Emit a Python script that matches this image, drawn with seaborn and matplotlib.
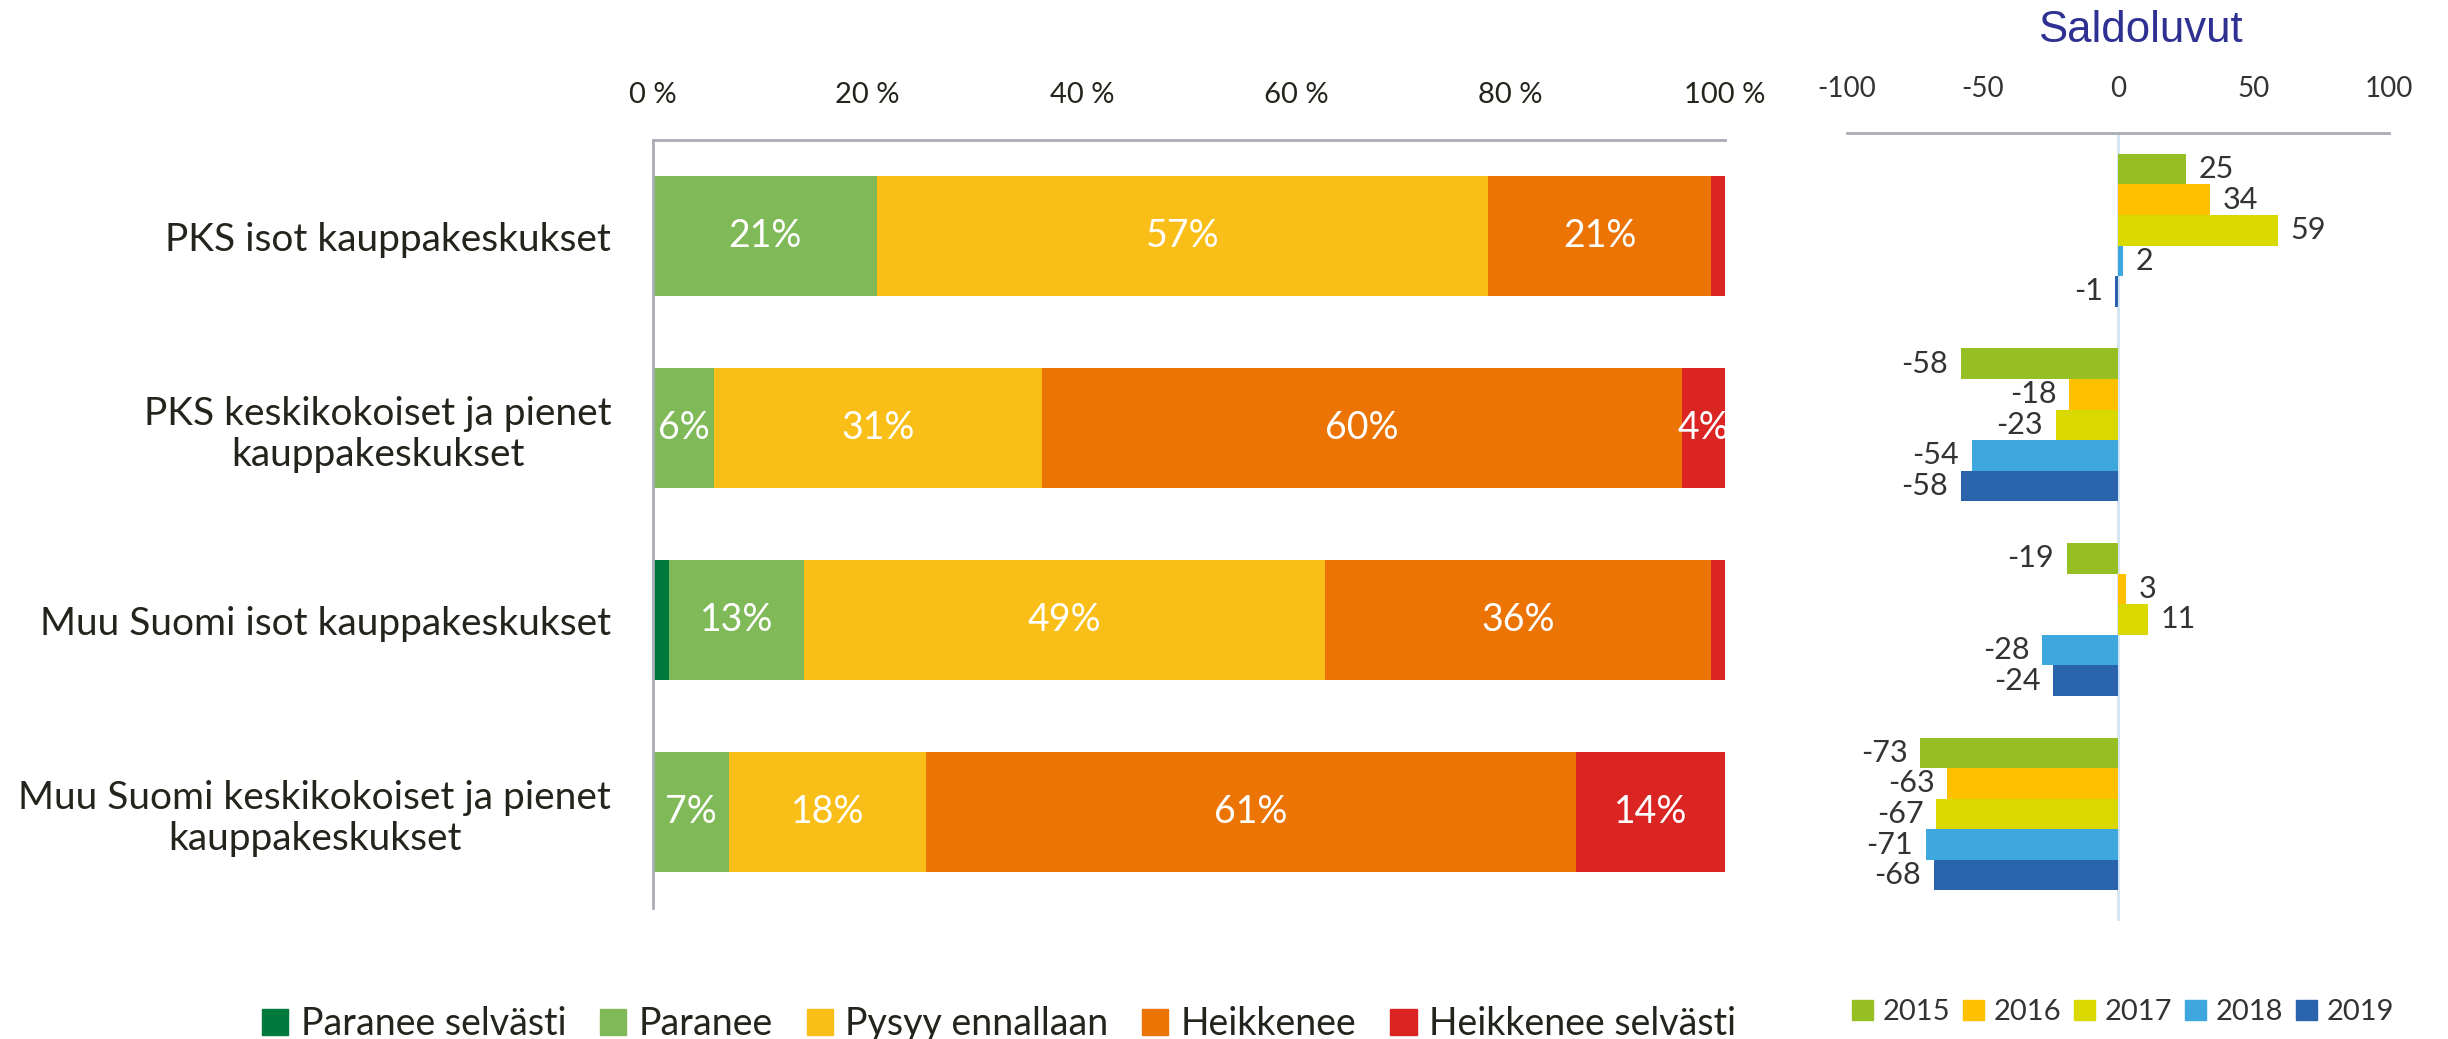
import numpy as np
import pandas as pd
import seaborn as sns
from matplotlib import pyplot as plt
from matplotlib.patches import Patch

sns.set_theme(style="white")
plt.rcParams["font.family"] = ["Lato", "DejaVu Sans"]
plt.rcParams["axes.unicode_minus"] = False

# left chart: share of answers per shopping centre group (%)
categories = [
    "PKS isot kauppakeskukset",
    "PKS keskikokoiset ja pienet\nkauppakeskukset",
    "Muu Suomi isot kauppakeskukset",
    "Muu Suomi keskikokoiset ja pienet\nkauppakeskukset",
]
answers = ["Paranee selvästi", "Paranee", "Pysyy ennallaan", "Heikkenee", "Heikkenee selvästi"]
paranee_selvasti = [0.0, 0.0, 1.5, 0.0]
paranee = [20.9, 5.7, 12.6, 7.1]
pysyy = [57.0, 30.6, 48.6, 18.4]
heikkenee = [20.8, 59.7, 36.0, 60.6]
heikkenee_selvasti = [1.3, 4.0, 1.3, 13.9]
answer_colors = ["#00793D", "#80BA58", "#F9BE17", "#EB7405", "#DA2522"]

# right chart: balance figures by year
years = ["2015", "2016", "2017", "2018", "2019"]
saldo_2015 = [25, -58, -19, -73]
saldo_2016 = [34, -18, 3, -63]
saldo_2017 = [59, -23, 11, -67]
saldo_2018 = [2, -54, -28, -71]
saldo_2019 = [-1, -58, -24, -68]
year_colors = ["#95BF22", "#FFC000", "#D9D900", "#3DA7DE", "#2964AC"]

text_color = "#24241c"
W, H = 2448, 1039
fig = plt.figure(figsize=(W / 100, H / 100), dpi=100)

# ---- stacked bars ----
ax = fig.add_axes([653 / W, 1 - 908 / H, (1725 - 653) / W, (908 - 140) / H])
shares = np.array([paranee_selvasti, paranee, pysyy, heikkenee, heikkenee_selvasti])
cum = shares.cumsum(axis=0)
for k in range(len(answers) - 1, -1, -1):
    sns.barplot(x=cum[k], y=categories, color=answer_colors[k], saturation=1,
                width=0.627, orient="h", errorbar=None, linewidth=0, ax=ax)
for k in range(len(answers)):
    for i in range(len(categories)):
        if shares[k, i] >= 3:
            ax.text(cum[k, i] - shares[k, i] / 2, i, f"{shares[k, i]:.0f}%",
                    ha="center", va="center", color="white", fontsize=27)

ax.set_xlim(0, 100)
ax.set_ylim(3.5, -0.5)
ax.xaxis.tick_top()
ax.set_xticks([0, 20, 40, 60, 80, 100])
ax.set_xticklabels([f"{v} %" for v in [0, 20, 40, 60, 80, 100]])
ax.tick_params(axis="x", length=0, pad=23, labelsize=21, labelcolor=text_color)
ax.tick_params(axis="y", length=0, pad=30, labelsize=28, labelcolor=text_color)
ax.set_yticks(range(len(categories)))
ax.set_yticklabels(categories, ha="right", multialignment="center")
ax.set_xlabel("")
ax.set_ylabel("")
for side in ["right", "bottom"]:
    ax.spines[side].set_visible(False)
for side in ["top", "left"]:
    ax.spines[side].set_color("#A9ADB6")
    ax.spines[side].set_linewidth(2)

handles = [Patch(color=c, label=a) for a, c in zip(answers, answer_colors)]
fig.legend(handles=handles, loc="center", bbox_to_anchor=(999 / W, 1 - 1024 / H),
           ncol=5, frameon=False, fontsize=27, handlelength=0.7, handleheight=0.7,
           handletextpad=0.33, columnspacing=0.9, labelcolor=text_color)

# ---- balance figures ----
ax2 = fig.add_axes([1847 / W, 1 - 921 / H, (2389 - 1847) / W, (921 - 133) / H])
saldo = pd.DataFrame({
    "kategoria": categories * len(years),
    "vuosi": np.repeat(years, len(categories)),
    "saldo": saldo_2015 + saldo_2016 + saldo_2017 + saldo_2018 + saldo_2019,
})
ax2.axvline(0, color="#D3E4F3", linewidth=2, zorder=0)
sns.barplot(data=saldo, x="saldo", y="kategoria", hue="vuosi", hue_order=years,
            palette=year_colors, saturation=1, width=0.786, orient="h",
            errorbar=None, linewidth=0, legend=False, ax=ax2)
for cont in ax2.containers:
    ax2.bar_label(cont, fmt="%d", padding=9, fontsize=22, color="#333333")

ax2.set_xlim(-100, 100)
ax2.set_ylim(3.55, -0.5)
ax2.xaxis.tick_top()
ax2.set_xticks([-100, -50, 0, 50, 100])
ax2.tick_params(axis="x", length=0, pad=22, labelsize=20, labelcolor="#333333")
ax2.set_yticks([])
ax2.set_xlabel("")
ax2.set_ylabel("")
for side in ["left", "right", "bottom"]:
    ax2.spines[side].set_visible(False)
ax2.spines["top"].set_color("#A9ADB6")
ax2.spines["top"].set_linewidth(2)

fig.text(2140 / W, 1 - 30 / H, "Saldoluvut", ha="center", va="center",
         fontsize=31.5, color="#2E3192", family=["Liberation Sans", "DejaVu Sans"])

handles2 = [Patch(color=c, label=y) for y, c in zip(years, year_colors)]
fig.legend(handles=handles2, loc="center", bbox_to_anchor=(2123 / W, 1 - 1012 / H),
           ncol=5, frameon=False, fontsize=21, handlelength=0.7, handleheight=0.7,
           handletextpad=0.33, columnspacing=0.46, labelcolor="#333333")

plt.savefig("out.png", dpi=100)
